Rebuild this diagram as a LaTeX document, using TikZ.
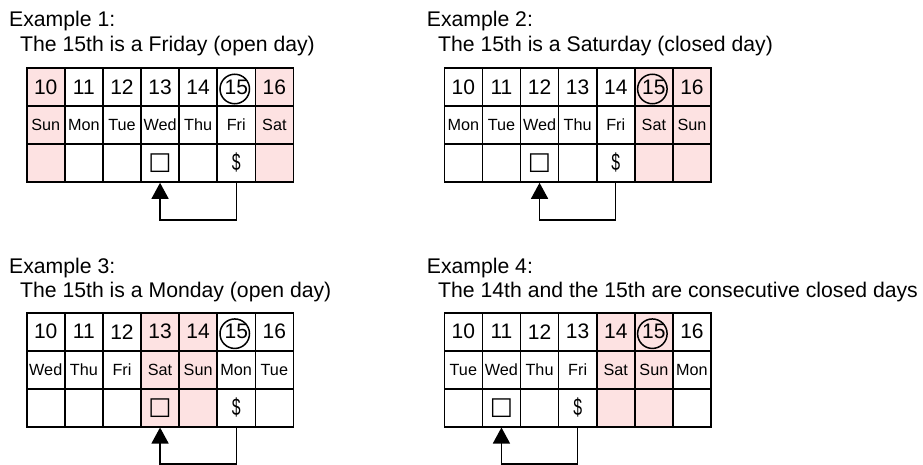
\documentclass[tikz,border=0pt]{standalone}
\usepackage{fontspec}
\usepackage{graphicx}
\setmainfont{Liberation Sans}
\newfontfamily\dejavu{DejaVu Sans}
\usetikzlibrary{arrows.meta}
\definecolor{closedpink}{HTML}{FDE2E2}
\newcommand\sqmark{\raisebox{2pt}{\dejavu\fontsize{24.5}{24.5}\selectfont □}}
\newcommand\dolmark{\raisebox{2pt}{\scalebox{0.66}[1]{\fontsize{24}{24}\selectfont\$}}}
\tikzset{
 cell/.style={draw, line width=1.6pt, minimum width=38.1pt, minimum height=38pt, inner sep=0pt, anchor=center},
 numtext/.style={font=\fontsize{21}{22}\selectfont},
 daytext/.style={font=\fontsize{16.2}{18}\selectfont},
 title/.style={font=\fontsize{21.2}{23}\selectfont, anchor=base west, inner sep=0pt},
 circlemark/.style={circle, draw, line width=1.5pt, minimum size=29.5pt, inner sep=0pt},
 flow/.style={line width=1.4pt, -{Triangle[length=16pt,width=17pt]}},
}
\newcommand\calgrid[4]{% #1 name, #2 left, #3 top, #4 list day/fill/symbol
  \foreach \dy/\fl/\sy [count=\i] in {#4} {
    \pgfmathsetmacro\xx{#2+(\i-0.5)*38.1}
    \pgfmathtruncatemacro\nn{9+\i}
    \node[cell, fill=\fl, numtext] (#1-n\i) at (\xx,#3+19) {\nn};
    \node[cell, fill=\fl, daytext] (#1-d\i) at (\xx,#3+57) {\dy};
    \node[cell, fill=\fl] (#1-s\i) at (\xx,#3+95) {\sy};
  }}
\begin{document}
\begin{tikzpicture}[x=1pt,y=-1pt]
\useasboundingbox (0,0) rectangle (923,465);
% Example 1
\node[title] (e1-title) at (9,27) {Example 1:};
\node[title] (e1-sub) at (20,52) {The 15th is a Friday (open day)};
\calgrid{e1}{26.7}{68}{Sun/closedpink/{},Mon/white/{},Tue/white/{},Wed/white/{\sqmark},Thu/white/{},Fri/white/{\dolmark},Sat/closedpink/{}}
\node[circlemark] (e1-c) at ([xshift=-1.5pt,yshift=-2pt]e1-n6.center) {};
\draw[flow] (e1-s6.south) -- ++(0,37) -| (e1-s4.south);
% Example 2
\node[title] (e2-title) at (426.7,27) {Example 2:};
\node[title] (e2-sub) at (438,52) {The 15th is a Saturday (closed day)};
\calgrid{e2}{444.3}{68}{Mon/white/{},Tue/white/{},Wed/white/{\sqmark},Thu/white/{},Fri/white/{\dolmark},Sat/closedpink/{},Sun/closedpink/{}}
\node[circlemark] (e2-c) at ([xshift=-1.5pt,yshift=-2pt]e2-n6.center) {};
\draw[flow] (e2-s5.south) -- ++(0,37) -| (e2-s3.south);
% Example 3
\node[title] (e3-title) at (9,273) {Example 3:};
\node[title] (e3-sub) at (20,297) {The 15th is a Monday (open day)};
\calgrid{e3}{26.7}{312.7}{Wed/white/{},Thu/white/{},Fri/white/{},Sat/closedpink/{\sqmark},Sun/closedpink/{},Mon/white/{\dolmark},Tue/white/{}}
\node[circlemark] (e3-c) at ([xshift=-1.5pt,yshift=-2pt]e3-n6.center) {};
\draw[flow] (e3-s6.south) -- ++(0,36.5) -| (e3-s4.south);
% Example 4
\node[title] (e4-title) at (426.7,273) {Example 4:};
\node[title] (e4-sub) at (438,297) {The 14th and the 15th are consecutive closed days};
\calgrid{e4}{444.3}{312.7}{Tue/white/{},Wed/white/{\sqmark},Thu/white/{},Fri/white/{\dolmark},Sat/closedpink/{},Sun/closedpink/{},Mon/white/{}}
\node[circlemark] (e4-c) at ([xshift=-1.5pt,yshift=-2pt]e4-n6.center) {};
\draw[flow] (e4-s4.south) -- ++(0,36.5) -| (e4-s2.south);
\end{tikzpicture}
\end{document}
